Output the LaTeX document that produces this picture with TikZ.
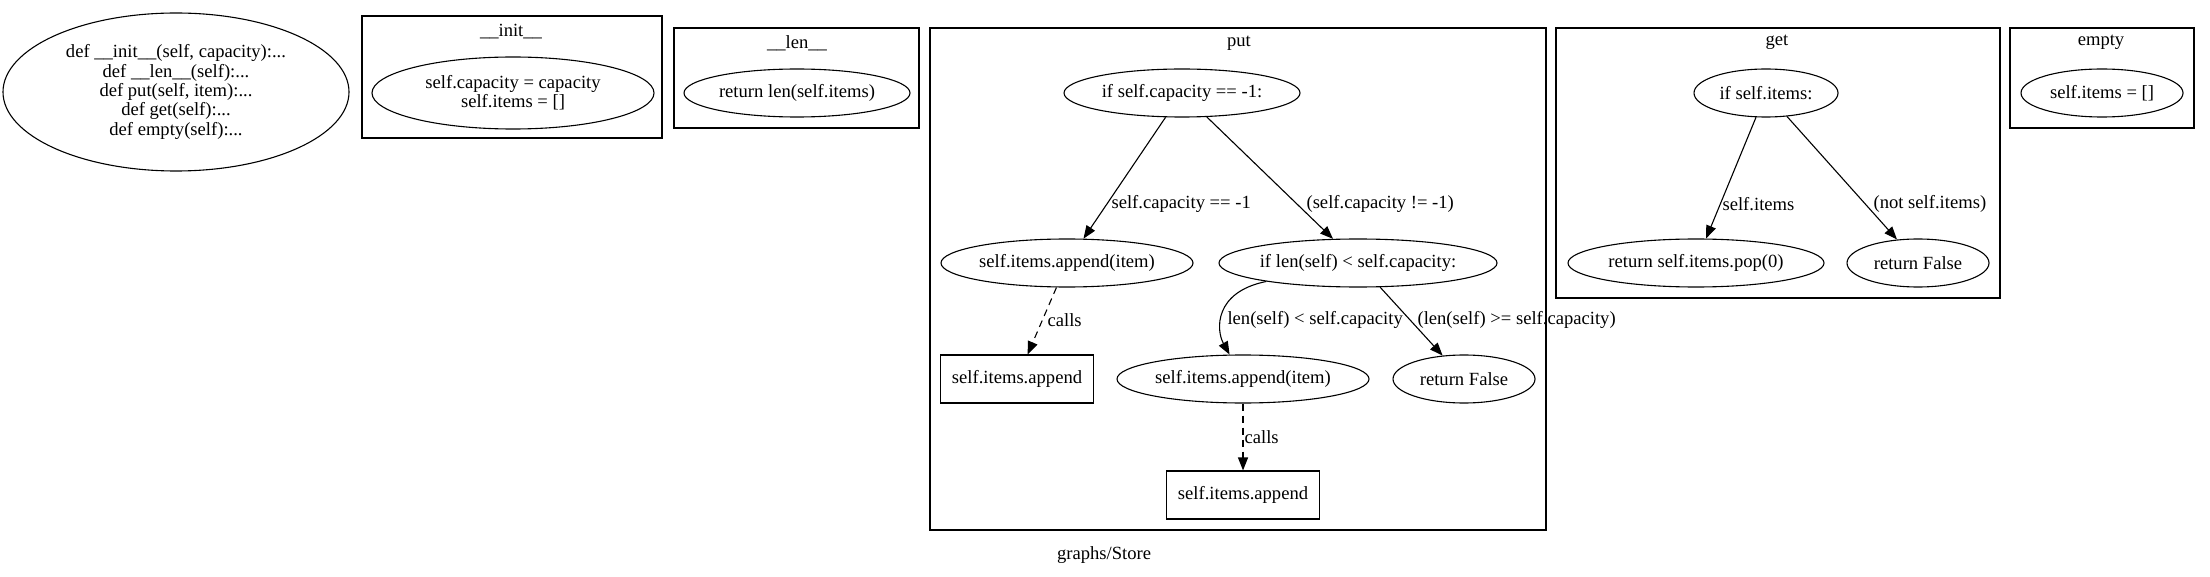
\documentclass[tikz,border=0pt]{standalone}
\usepackage{fontspec}
\setmainfont{Liberation Serif}
\usetikzlibrary{arrows.meta,shapes.geometric}
\tikzset{
  gv/.style={font=\fontsize{18.6}{19.3}\selectfont},
  oval/.style={gv, draw, ellipse, inner sep=0pt, align=center},
  callbox/.style={gv, draw, rectangle, inner sep=0pt, minimum width=153pt, minimum height=48pt},
  lbl/.style={gv, inner sep=0pt, anchor=west},
  flow/.style={-{Triangle[length=13pt,width=10pt]}},
  calls/.style={flow, dash pattern=on 7pt off 5pt},
}

\begin{document}
\begin{tikzpicture}[x=1pt, y=-1pt, line width=1.1pt]
    \useasboundingbox (0,0) rectangle (2210,577);

    \node[oval, minimum width=346pt, minimum height=158pt] (store) at (176,92)
        {def \_\_init\_\_(self, capacity):...\\def \_\_len\_\_(self):...\\def put(self, item):...\\def get(self):...\\def empty(self):...};

    % __init__
    \draw (362,16) rectangle (662,138);
    \node[gv] (tinit) at (511,32) {\_\_init\_\_};
    \node[oval, minimum width=282pt, minimum height=72pt] (i1) at (513,93) {self.capacity = capacity\\self.items = []};

    % __len__
    \draw (674,28) rectangle (919,128);
    \node[gv] (tlen) at (797,43) {\_\_len\_\_};
    \node[oval, minimum width=226pt, minimum height=48pt] (len1) at (797,93) {return len(self.items)};

    % put
    \draw (930,28) rectangle (1546,530);
    \node[gv] (tput) at (1239,43) {put};
    \node[oval, minimum width=236pt, minimum height=48pt] (n1) at (1182,93) {if self.capacity == -1:};
    \node[oval, minimum width=252pt, minimum height=48pt] (n2) at (1067,263) {self.items.append(item)};
    \node[oval, minimum width=278pt, minimum height=48pt] (n3) at (1358,263) {if len(self) < self.capacity:};
    \node[callbox] (b4) at (1017,379) {self.items.append};
    \node[oval, minimum width=252pt, minimum height=48pt] (n5) at (1243,379) {self.items.append(item)};
    \node[oval, minimum width=142pt, minimum height=48pt] (n6) at (1464,379) {return False};
    \node[callbox] (b7) at (1243,495) {self.items.append};

    \draw[flow] (n1) -- (n2);
    \draw[flow] (n1) -- (n3);
    \draw[calls] (n2) -- (b4);
    \draw[flow] (n3) .. controls (1214,292) and (1216,330) .. (n5);
    \draw[flow] (n3) -- (n6);
    \draw[calls] (n5) -- (b7);

    \node[lbl] (l1) at (1111,204) {self.capacity == -1};
    \node[lbl] (l2) at (1306,204) {(self.capacity != -1)};
    \node[lbl] (l3) at (1047,320) {calls};
    \node[lbl] (l4) at (1227,320) {len(self) < self.capacity};
    \node[lbl] (l5) at (1417,320) {(len(self) >= self.capacity)};
    \node[lbl] (l6) at (1244,437) {calls};

    % get
    \draw (1556,28) rectangle (2000,298);
    \node[gv] (tget) at (1777,42) {get};
    \node[oval, minimum width=144pt, minimum height=48pt] (g1) at (1766,93) {if self.items:};
    \node[oval, minimum width=256pt, minimum height=48pt] (g2) at (1696,263) {return self.items.pop(0)};
    \node[oval, minimum width=142pt, minimum height=48pt] (g3) at (1918,263) {return False};

    \draw[flow] (g1) -- (g2);
    \draw[flow] (g1) -- (g3);

    \node[lbl] (l7) at (1722,204) {self.items};
    \node[lbl] (l8) at (1873,204) {(not self.items)};

    % empty
    \draw (2010,28) rectangle (2194,128);
    \node[gv] (tempty) at (2101,42) {empty};
    \node[oval, minimum width=162pt, minimum height=48pt] (e1) at (2102,93) {self.items = []};

    \node[gv] (title) at (1104,555) {graphs/Store};
\end{tikzpicture}
\end{document}
